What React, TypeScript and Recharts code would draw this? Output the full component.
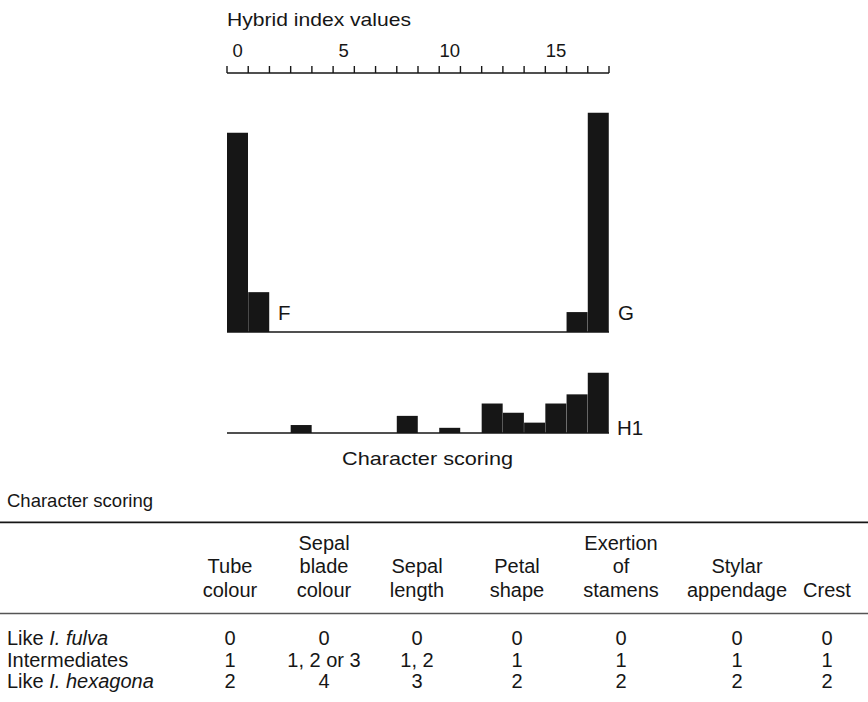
import { BarChart, Bar, XAxis, YAxis, ReferenceLine } from "recharts"

const binLabels = ["0", "1", "2", "3", "4", "5", "6", "7", "8", "9", "10", "11", "12", "13", "14", "15", "16", "17"]
const fulvaCounts = [50, 10, 0, 0, 0, 0, 0, 0, 0, 0, 0, 0, 0, 0, 0, 0, 0, 0]
const hexagonaCounts = [0, 0, 0, 0, 0, 0, 0, 0, 0, 0, 0, 0, 0, 0, 0, 0, 5, 55]
const hybridCounts = [0, 0, 0, 2, 0, 0, 0, 0, 4.3, 0, 1.3, 0, 7.4, 5.1, 2.6, 7.4, 9.7, 15.1]

const scaleTicks = [0, 1, 2, 3, 4, 5, 6, 7, 8, 9, 10, 11, 12, 13, 14, 15, 16, 17, 18]
const scaleLabels = ["0", "5", "10", "15"]

const characterHeaders = [
  ["", "Tube", "colour"],
  ["Sepal", "blade", "colour"],
  ["", "Sepal", "length"],
  ["", "Petal", "shape"],
  ["Exertion", "of", "stamens"],
  ["", "Stylar", "appendage"],
  ["", "", "Crest"],
]
const rowLabels = [
  { plain: "Like ", italic: "I. fulva" },
  { plain: "Intermediates", italic: "" },
  { plain: "Like ", italic: "I. hexagona" },
]
const fulvaScores = ["0", "0", "0", "0", "0", "0", "0"]
const intermediateScores = ["1", "1, 2 or 3", "1, 2", "1", "1", "1", "1"]
const hexagonaScores = ["2", "4", "3", "2", "2", "2", "2"]

const FONT = "'Liberation Sans', Arial, Helvetica, sans-serif"
const INK = "#161616"

// each bin starts at its own index value on the numeric scale
const parentData = binLabels.map((bin, i) => ({
  bin,
  start: Number(bin),
  fulva: fulvaCounts[i],
  hexagona: hexagonaCounts[i],
}))
const hybridData = binLabels.map((bin, i) => ({ bin, hybrid: hybridCounts[i] }))

// table layout
const colX = [230, 324, 417, 517, 621, 737, 827]
const headerY = [550, 573.3, 596.7]
const rowY = [645, 666.5, 688]

export default function App() {
  const scoreRows = [fulvaScores, intermediateScores, hexagonaScores]

  return (
    <div
      style={{
        position: "absolute",
        left: 0,
        top: 0,
        width: 868,
        height: 702,
        background: "#fff",
        fontFamily: FONT,
      }}
    >
      <div style={{ position: "absolute", left: 0, top: 0 }}>
        <BarChart
          width={868}
          height={345}
          data={parentData}
          margin={{ top: 33, left: 227, right: 259, bottom: 13 }}
          barCategoryGap={0}
          barGap={0}
        >
          {/* tick marks at bin edges, right on top of the plot */}
          <XAxis
            xAxisId="axisEdges"
            dataKey="start"
            type="number"
            orientation="top"
            domain={[0, 18]}
            ticks={scaleTicks}
            interval={0}
            allowDataOverflow
            height={10}
            tickSize={7}
            tickFormatter={() => ""}
            axisLine={{ stroke: INK, strokeWidth: 1.6 }}
            tickLine={{ stroke: INK, strokeWidth: 1.4 }}
          />
          {/* labels at bin centres, above the tick marks */}
          <XAxis
            xAxisId="bins"
            dataKey="bin"
            orientation="top"
            ticks={scaleLabels}
            interval={0}
            height={30}
            tickSize={0}
            tickMargin={6}
            axisLine={false}
            tickLine={false}
            tick={{ fill: INK, fontSize: 18.5, fontFamily: FONT }}
          />
          <YAxis hide domain={[0, 65]} />
          <Bar xAxisId="bins" dataKey="fulva" stackId="s" fill={INK} isAnimationActive={false} />
          <Bar xAxisId="bins" dataKey="hexagona" stackId="s" fill={INK} isAnimationActive={false} />
          <ReferenceLine xAxisId="bins" y={0} stroke={INK} strokeWidth={1.6} />
        </BarChart>
      </div>

      <div style={{ position: "absolute", left: 0, top: 340 }}>
        <BarChart
          width={868}
          height={100}
          data={hybridData}
          margin={{ top: 13.3, left: 227, right: 259, bottom: 7 }}
          barCategoryGap={0}
          barGap={0}
        >
          <XAxis xAxisId="bins" dataKey="bin" hide />
          <YAxis hide domain={[0, 20]} />
          <Bar xAxisId="bins" dataKey="hybrid" fill={INK} isAnimationActive={false} />
          <ReferenceLine xAxisId="bins" y={0} stroke={INK} strokeWidth={1.6} />
        </BarChart>
      </div>

      <svg
        width={868}
        height={702}
        style={{ position: "absolute", left: 0, top: 0, pointerEvents: "none" }}
        fontFamily={FONT}
        fill={INK}
      >
        <text x={227} y={26} fontSize={18.5} textLength={184} lengthAdjust="spacingAndGlyphs">
          Hybrid index values
        </text>
        <text x={278} y={320} fontSize={20.5}>F</text>
        <text x={618} y={320} fontSize={20.5}>G</text>
        <text x={617} y={435} fontSize={20.5}>H1</text>
        <text
          x={427.5}
          y={465}
          fontSize={18.5}
          textAnchor="middle"
          textLength={171}
          lengthAdjust="spacingAndGlyphs"
        >
          Character scoring
        </text>

        {/* table */}
        <text x={7} y={506.7} fontSize={18.5}>Character scoring</text>
        <line x1={0} x2={868} y1={522.3} y2={522.3} stroke={INK} strokeWidth={1.7} />
        {characterHeaders.map((lines, c) =>
          lines.map((line, l) =>
            line ? (
              <text key={`h${c}-${l}`} x={colX[c]} y={headerY[l]} fontSize={20} textAnchor="middle">
                {line}
              </text>
            ) : null
          )
        )}
        <line x1={0} x2={868} y1={613.5} y2={613.5} stroke="#555" strokeWidth={1.6} />
        {rowLabels.map((r, i) => (
          <text key={`r${i}`} x={7} y={rowY[i]} fontSize={20}>
            {r.plain}
            {r.italic ? <tspan fontStyle="italic">{r.italic}</tspan> : null}
          </text>
        ))}
        {scoreRows.map((row, i) =>
          row.map((v, c) => (
            <text key={`v${i}-${c}`} x={colX[c]} y={rowY[i]} fontSize={20} textAnchor="middle">
              {v}
            </text>
          ))
        )}
      </svg>
    </div>
  )
}
